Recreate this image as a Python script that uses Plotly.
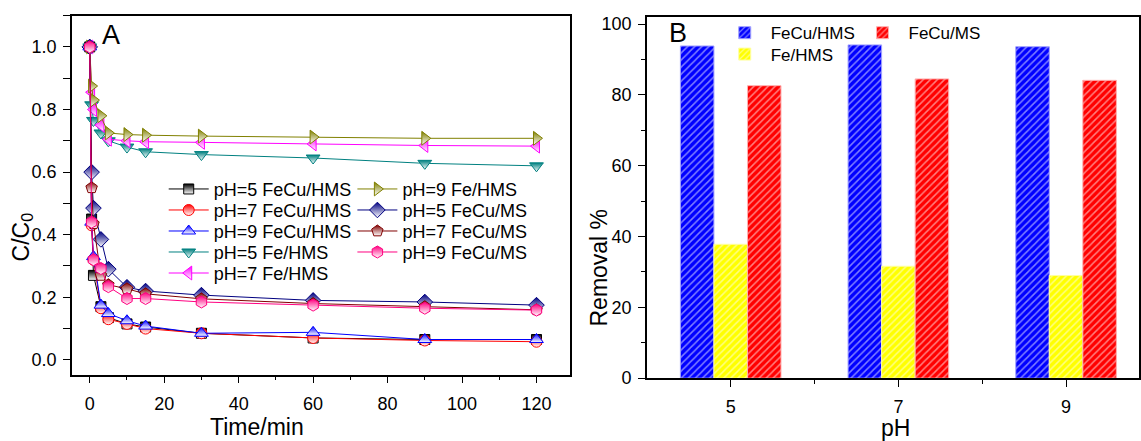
import plotly.graph_objects as go

W, H = 1141, 441

# ---------------- data: panel A ----------------
time_min = [0, 0.5, 1, 3, 5, 10, 15, 30, 60, 90, 120]
ph5_fecu_hms = [1.0, 0.45, 0.27, 0.17, 0.135, 0.115, 0.105, 0.085, 0.07, 0.065, 0.065]
ph7_fecu_hms = [1.0, 0.43, 0.32, 0.165, 0.13, 0.115, 0.10, 0.085, 0.07, 0.062, 0.058]
ph9_fecu_hms = [1.0, 0.44, 0.33, 0.175, 0.148, 0.125, 0.108, 0.085, 0.088, 0.065, 0.065]
ph5_fe_hms = [1.0, 0.815, 0.765, 0.725, 0.70, 0.68, 0.665, 0.656, 0.645, 0.628, 0.62]
ph7_fe_hms = [1.0, 0.855, 0.80, 0.75, 0.705, 0.70, 0.697, 0.695, 0.69, 0.685, 0.683]
ph9_fe_hms = [1.0, 0.875, 0.83, 0.78, 0.725, 0.72, 0.718, 0.715, 0.712, 0.708, 0.708]
ph5_fecu_ms = [1.0, 0.60, 0.485, 0.385, 0.29, 0.232, 0.22, 0.207, 0.19, 0.185, 0.175]
ph7_fecu_ms = [1.0, 0.55, 0.435, 0.27, 0.24, 0.227, 0.211, 0.195, 0.18, 0.17, 0.16]
ph9_fecu_ms = [1.0, 0.44, 0.32, 0.292, 0.234, 0.196, 0.196, 0.185, 0.175, 0.165, 0.159]

series_names = ["pH=5 FeCu/HMS", "pH=7 FeCu/HMS", "pH=9 FeCu/HMS",
                "pH=5 Fe/HMS", "pH=7 Fe/HMS", "pH=9 Fe/HMS",
                "pH=5 FeCu/MS", "pH=7 FeCu/MS", "pH=9 FeCu/MS"]
series_values = [ph5_fecu_hms, ph7_fecu_hms, ph9_fecu_hms,
                 ph5_fe_hms, ph7_fe_hms, ph9_fe_hms,
                 ph5_fecu_ms, ph7_fecu_ms, ph9_fecu_ms]

# ---------------- data: panel B ----------------
ph_values = [5, 7, 9]
tick_labels_B = ["5", "7", "9"]
removal_fecu_hms = [93.8, 94.1, 93.6]
removal_fe_hms = [37.8, 31.6, 29.0]
removal_fecu_ms = [82.6, 84.5, 84.1]

# ---------------- styles ----------------
colors = ["#000000", "#FF0000", "#0000FF", "#008080", "#FF00FF",
          "#808000", "#000080", "#800000", "#FF0080"]
symbols = ["square", "circle", "triangle-up", "triangle-down", "triangle-left",
           "triangle-right", "diamond", "pentagon", "hexagon"]
sizes = [10, 11, 12, 12, 12, 12, 12, 12, 12]

FONT = "Liberation Sans, Arial, sans-serif"


def px_x(p):
    return p / W


def px_y(p):
    return 1 - p / H


fig = go.Figure()

# legend layout (pixel positions: left edge, centre y)
legend_pos = []
for k in range(5):
    legend_pos.append((164, 192.5 + 21.6 * k))
for k in range(4):
    legend_pos.append((353, 192.5 + 21.6 * k))

legends_layout = {}
for i, (name, vals) in enumerate(zip(series_names, series_values)):
    lg = "legend" if i == 0 else f"legend{i + 1}"
    fig.add_trace(go.Scatter(
        x=time_min, y=vals, name=name, mode="lines+markers",
        line=dict(color=colors[i], width=1),
        marker=dict(symbol=symbols[i], size=sizes[i], color=colors[i],
                    gradient=dict(type="vertical", color="white"),
                    line=dict(color=colors[i], width=1)),
        xaxis="x", yaxis="y", legend=lg, showlegend=True,
    ))
    lx, ly = legend_pos[i]
    legends_layout[lg] = dict(
        x=px_x(lx), y=px_y(ly), xanchor="left", yanchor="middle",
        bgcolor="rgba(0,0,0,0)", borderwidth=0, itemwidth=40,
        font=dict(family=FONT, size=18, color="#000"),
    )

bar_specs = [
    ("FeCu/HMS", removal_fecu_hms, "#0000FF", "#A0A0FF", -0.6, (720, 32)),
    ("Fe/HMS", removal_fe_hms, "#FFFF00", "#FFFFA0", -0.2, (720, 54)),
    ("FeCu/MS", removal_fecu_ms, "#FF0000", "#FFB0B0", 0.2, (858, 32)),
]
for j, (name, vals, col, edge, off, (lx, ly)) in enumerate(bar_specs):
    lg = f"legend{10 + j}"
    fig.add_trace(go.Bar(
        x=ph_values, y=vals, name=name, width=0.4, offset=off,
        marker=dict(color=col, line=dict(color=edge, width=1),
                    pattern=dict(shape="/", fgcolor="white", bgcolor=col,
                                 size=5, solidity=0.3)),
        xaxis="x2", yaxis="y2", legend=lg, showlegend=True,
    ))
    legends_layout[lg] = dict(
        x=px_x(lx), y=px_y(ly), xanchor="left", yanchor="middle",
        bgcolor="rgba(0,0,0,0)", borderwidth=0, itemwidth=42,
        font=dict(family=FONT, size=17, color="#000"),
    )

axis_common = dict(
    showline=True, linecolor="black", linewidth=1.5, mirror=True,
    ticks="outside", ticklen=7, tickwidth=1.2, tickcolor="black",
    showgrid=False, zeroline=False,
    tickfont=dict(family=FONT, size=18, color="#000"),
)

title_font = dict(family=FONT, size=23, color="#000")

fig.update_layout(
    width=W, height=H,
    margin=dict(l=0, r=0, t=0, b=0),
    paper_bgcolor="white", plot_bgcolor="white",
    barmode="overlay", showlegend=True,
    font=dict(family=FONT, color="#000"),
    xaxis=dict(
        domain=[px_x(72), px_x(571)], range=[-4.8, 129], anchor="y",
        tickmode="linear", tick0=0, dtick=20, ticklabelstandoff=5,
        minor=dict(ticks="outside", ticklen=4, dtick=10, tick0=0, tickcolor="black"),
        **axis_common,
    ),
    yaxis=dict(
        domain=[px_y(383), px_y(14)], range=[-0.047, 1.1], anchor="x",
        tickmode="linear", tick0=0, dtick=0.2, tickformat=".1f", ticklabelstandoff=3,
        minor=dict(ticks="outside", ticklen=7, dtick=0.1, tick0=0, tickcolor="black"),
        **axis_common,
    ),
    xaxis2=dict(
        domain=[px_x(648), 1.0], range=[4.0, 9.87], anchor="y2",
        tickmode="array", tickvals=ph_values, ticktext=tick_labels_B, ticklabelstandoff=4,
        minor=dict(ticks="outside", ticklen=4, tickvals=[6, 8], tickcolor="black"),
        **axis_common,
    ),
    yaxis2=dict(
        domain=[px_y(386.7), px_y(15)], range=[0, 102.1], anchor="x2",
        tickmode="linear", tick0=0, dtick=20, ticklabelstandoff=3,
        minor=dict(ticks="outside", ticklen=4, dtick=10, tick0=0, tickcolor="black"),
        **axis_common,
    ),
    annotations=[
        dict(text="A", x=px_x(100), y=px_y(34), xref="paper", yref="paper",
             xanchor="left", yanchor="middle", showarrow=False,
             font=dict(family=FONT, size=27, color="#000")),
        dict(text="B", x=px_x(668), y=px_y(32), xref="paper", yref="paper",
             xanchor="left", yanchor="middle", showarrow=False,
             font=dict(family=FONT, size=27, color="#000")),
        # axis titles
        dict(text="C/C<sub>0</sub>", x=px_x(22), y=px_y(241), xref="paper", yref="paper",
             xanchor="center", yanchor="middle", showarrow=False, textangle=-90,
             font=title_font),
        dict(text="Time/min", x=px_x(257), y=px_y(437), xref="paper", yref="paper",
             xanchor="center", yanchor="middle", showarrow=False, font=title_font),
        dict(text="Removal %", x=px_x(600), y=px_y(273), xref="paper", yref="paper",
             xanchor="center", yanchor="middle", showarrow=False, textangle=-90,
             font=title_font),
        dict(text="pH", x=px_x(897), y=px_y(438), xref="paper", yref="paper",
             xanchor="center", yanchor="middle", showarrow=False, font=title_font),
    ],
    **legends_layout,
)

fig.write_html("out.html")
